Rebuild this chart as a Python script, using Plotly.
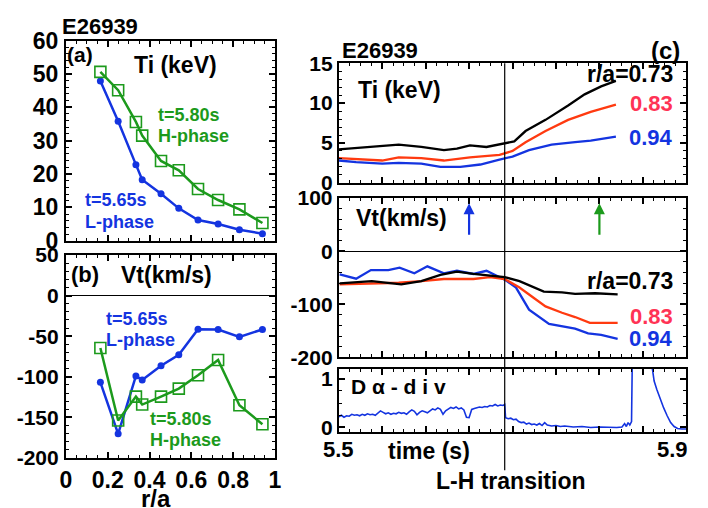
import plotly.graph_objects as go

# ---- radial profiles (panels a, b) ----
r_a = [0.165, 0.25, 0.335, 0.365, 0.455, 0.54, 0.632, 0.728, 0.83, 0.94]
ti_L = [47.9, 35.8, 22.8, 18.3, 14.1, 9.7, 6.2, 5.0, 3.3, 2.1]
ti_H = [50.6, 45.1, 35.6, 31.5, 23.9, 21.1, 15.5, 12.2, 9.4, 5.3]
vt_L = [-106.8, -170.2, -99.0, -104.0, -86.5, -72.8, -41.5, -41.8, -50.8, -41.8]
vt_H = [-64.6, -153.8, -124.4, -134.2, -124.4, -114.6, -98.2, -79.4, -135.0, -158.5]

# ---- time traces (panel c) ----
t_ti_073 = [5.500, 5.538, 5.569, 5.595, 5.621, 5.636, 5.651, 5.670, 5.691, 5.702,
            5.715, 5.738, 5.764, 5.783, 5.802, 5.819]
ti_073 = [4.2, 4.5, 4.8, 4.5, 4.1, 4.3, 4.7, 4.5, 5.0, 5.2, 6.5, 7.9, 9.7, 11.1, 12.1, 12.8]
t_ti_083 = [5.500, 5.520, 5.550, 5.569, 5.595, 5.621, 5.651, 5.685, 5.700, 5.715,
            5.738, 5.764, 5.790, 5.819]
ti_083 = [3.1, 3.0, 2.8, 3.2, 3.1, 2.8, 3.2, 3.5, 4.0, 5.1, 6.5, 7.9, 8.9, 9.8]
t_ti_094 = [5.500, 5.520, 5.550, 5.569, 5.595, 5.617, 5.640, 5.663, 5.685, 5.700,
            5.719, 5.745, 5.772, 5.790, 5.819]
ti_094 = [2.8, 2.6, 2.4, 2.5, 2.4, 2.0, 2.0, 2.3, 2.9, 3.3, 4.1, 4.8, 5.1, 5.3, 5.8]

t_vt_073 = [5.501, 5.538, 5.572, 5.595, 5.617, 5.636, 5.655, 5.674, 5.691, 5.708,
            5.723, 5.736, 5.757, 5.772, 5.795, 5.821]
vt_073 = [-60.7, -56.5, -62.5, -56.5, -44.6, -38.7, -42.9, -46.4, -48.8, -56.5,
          -66.7, -76.2, -77.4, -80.4, -79.2, -81.5]
t_vt_083 = [5.501, 5.538, 5.569, 5.595, 5.621, 5.655, 5.674, 5.691, 5.708, 5.723,
            5.738, 5.757, 5.772, 5.789, 5.821]
vt_083 = [-62.5, -60.7, -59.5, -56.5, -52.4, -52.4, -48.8, -52.4, -68.5, -86.3,
          -104.0, -116.0, -124.0, -135.0, -135.0]
t_vt_094 = [5.501, 5.520, 5.537, 5.557, 5.570, 5.587, 5.602, 5.621, 5.636, 5.655,
            5.670, 5.681, 5.691, 5.704, 5.719, 5.742, 5.757, 5.772, 5.787, 5.802, 5.821]
vt_094 = [-43.5, -51.8, -35.7, -35.7, -31.0, -41.7, -28.6, -41.7, -36.9, -42.9,
          -36.9, -45.8, -53.6, -68.5, -110.0, -137.0, -141.7, -145.8, -154.8, -157.7, -164.9]

t_da = [5.500, 5.503, 5.506, 5.509, 5.512, 5.515, 5.518, 5.521, 5.524, 5.527, 5.530,
        5.533, 5.536, 5.539, 5.542, 5.545, 5.548, 5.551, 5.554, 5.557, 5.560, 5.563,
        5.566, 5.569, 5.572, 5.575, 5.578, 5.581, 5.584, 5.587, 5.590, 5.593, 5.596,
        5.599, 5.602, 5.605, 5.608, 5.611, 5.614, 5.617, 5.620, 5.623, 5.626, 5.629,
        5.632, 5.635, 5.638, 5.641, 5.644, 5.647, 5.650, 5.653, 5.656, 5.659, 5.662,
        5.665, 5.668, 5.671, 5.674, 5.677, 5.680, 5.683, 5.686, 5.689, 5.691, 5.692,
        5.695, 5.698, 5.701, 5.704, 5.707, 5.710, 5.713, 5.716, 5.719, 5.722, 5.725,
        5.728, 5.731, 5.734, 5.737, 5.740, 5.745, 5.750, 5.755, 5.760, 5.770, 5.780,
        5.790, 5.800, 5.810, 5.820, 5.826, 5.829, 5.831, 5.833, 5.835, 5.837, 5.838,
        5.860, 5.861, 5.863, 5.866, 5.870, 5.874, 5.878, 5.882, 5.886, 5.890, 5.895, 5.900]
da = [0.22, 0.25, 0.21, 0.24, 0.23, 0.27, 0.25, 0.26, 0.24, 0.27, 0.25,
      0.28, 0.26, 0.27, 0.25, 0.30, 0.34, 0.31, 0.28, 0.30, 0.27, 0.29,
      0.28, 0.31, 0.29, 0.30, 0.27, 0.32, 0.36, 0.33, 0.26, 0.31, 0.34,
      0.32, 0.30, 0.34, 0.38, 0.36, 0.40, 0.37, 0.27, 0.34, 0.38, 0.41,
      0.39, 0.42, 0.38, 0.40, 0.36, 0.21, 0.20, 0.37, 0.39, 0.40, 0.42,
      0.41, 0.43, 0.42, 0.45, 0.44, 0.47, 0.44, 0.46, 0.45, 0.47, 0.20,
      0.18, 0.19, 0.16, 0.17, 0.12, 0.10, 0.11, 0.07, 0.09, 0.06, 0.07,
      0.05, 0.08, 0.04, 0.10, 0.05, 0.03, 0.04, 0.02, 0.03, 0.01, 0.02,
      0.00, 0.01, 0.00, 0.00, 0.01, 0.08, 0.02, 0.10, 0.05, 0.12, 1.60,
      1.60, 1.20, 0.95, 0.78, 0.58, 0.40, 0.24, 0.10, 0.02, -0.02, -0.03, -0.03]

# tick labels (plain hyphen for negatives)
ti_ticks = [0, 10, 20, 30, 40, 50, 60]
vt_ticks_a = [-200, -150, -100, -50, 0, 50]
ti_ticks_c = [0, 5, 10, 15]
vt_ticks_c = [-200, -100, 0, 100]
da_ticks = [0, 1]

t_LH = 5.691
t_L, t_H = 5.65, 5.80

BLUE = "#1434e0"
GREEN = "#1c9a1c"
RED = "#ff3a10"
RED_TXT = "#ff3355"
FONT = "Liberation Sans, Arial, sans-serif"

W, H = 708, 508
def fx(px):
    return px / W
def fy(py):
    return 1 - py / H

fig = go.Figure()

# panel a
fig.add_trace(go.Scatter(x=r_a, y=ti_L, mode="lines+markers", xaxis="x", yaxis="y",
                         line=dict(color=BLUE, width=2.5),
                         marker=dict(symbol="circle", size=7, color=BLUE)))
fig.add_trace(go.Scatter(x=r_a, y=ti_H, mode="lines+markers", xaxis="x", yaxis="y",
                         line=dict(color=GREEN, width=2.5),
                         marker=dict(symbol="square-open", size=11, color=GREEN,
                                     line=dict(width=1.6, color=GREEN))))
# panel b
fig.add_trace(go.Scatter(x=r_a, y=vt_L, mode="lines+markers", xaxis="x2", yaxis="y2",
                         line=dict(color=BLUE, width=2.5),
                         marker=dict(symbol="circle", size=7, color=BLUE)))
fig.add_trace(go.Scatter(x=r_a, y=vt_H, mode="lines+markers", xaxis="x2", yaxis="y2",
                         line=dict(color=GREEN, width=2.5),
                         marker=dict(symbol="square-open", size=11, color=GREEN,
                                     line=dict(width=1.6, color=GREEN))))
# panel c: Ti traces
for t, v, c in [(t_ti_073, ti_073, "black"), (t_ti_083, ti_083, RED), (t_ti_094, ti_094, BLUE)]:
    fig.add_trace(go.Scatter(x=t, y=v, mode="lines", xaxis="x3", yaxis="y3",
                             line=dict(color=c, width=2.3)))
# panel c: Vt traces
for t, v, c in [(t_vt_094, vt_094, BLUE), (t_vt_083, vt_083, RED), (t_vt_073, vt_073, "black")]:
    fig.add_trace(go.Scatter(x=t, y=v, mode="lines", xaxis="x4", yaxis="y4",
                             line=dict(color=c, width=2.3)))
# panel c: D-alpha
fig.add_trace(go.Scatter(x=t_da, y=da, mode="lines", xaxis="x5", yaxis="y5",
                         line=dict(color=BLUE, width=1.6)))

def tfont(size):
    return dict(family=FONT, size=size, color="black", weight="bold")

def ax_style(minor_dtick=None, **kw):
    d = dict(showline=True, linecolor="black", linewidth=2, mirror="allticks",
             ticks="inside", ticklen=6, tickwidth=1.5, tickcolor="black",
             showgrid=False, zeroline=False, tickfont=tfont(21),
             minor=dict(ticks="inside", ticklen=3, tickwidth=1.2, tickcolor="black"))
    if minor_dtick is not None:
        d["minor"]["dtick"] = minor_dtick
    d.update(kw)
    return d

def labels(vals):
    return [str(v).replace("\u2212", "-") for v in vals]

xa_left = [fx(61), fx(274)]
xa_right = [fx(339), fx(693)]

layout = dict(
    width=W, height=H, margin=dict(l=0, r=0, t=0, b=0),
    paper_bgcolor="white", plot_bgcolor="white", showlegend=False,
    font=dict(family=FONT, color="black", weight="bold"),
    xaxis=ax_style(domain=xa_left, anchor="y", range=[0, 1], dtick=0.2, tick0=0,
                   showticklabels=False, minor_dtick=0.05),
    yaxis=ax_style(domain=[fy(240), fy(29)], anchor="x", range=[0, 60],
                   tickvals=ti_ticks, ticktext=labels(ti_ticks), tickfont=tfont(23),
                   minor_dtick=2, ticklabelstandoff=1),
    xaxis2=ax_style(domain=xa_left, anchor="y2", range=[0, 1], dtick=0.2, tick0=0,
                    minor_dtick=0.05, tickfont=tfont(23), ticklabelstandoff=0),
    yaxis2=ax_style(domain=[fy(469), fy(255)], anchor="x2", range=[-200, 50],
                    tickvals=vt_ticks_a, ticktext=labels(vt_ticks_a), tickfont=tfont(21),
                    minor_dtick=10, ticklabelstandoff=1,
                    zeroline=True, zerolinecolor="black", zerolinewidth=1.2),
    xaxis3=ax_style(domain=xa_right, anchor="y3", range=[5.5, 5.9], dtick=0.05, tick0=5.5,
                    minor_dtick=0.0125, showticklabels=False),
    yaxis3=ax_style(domain=[fy(179), fy(53)], anchor="x3", range=[0, 15],
                    tickvals=ti_ticks_c, ticktext=labels(ti_ticks_c), minor_dtick=1),
    xaxis4=ax_style(domain=xa_right, anchor="y4", range=[5.5, 5.9], dtick=0.05, tick0=5.5,
                    minor_dtick=0.0125, showticklabels=False),
    yaxis4=ax_style(domain=[fy(363), fy(195)], anchor="x4", range=[-200, 100],
                    tickvals=vt_ticks_c, ticktext=labels(vt_ticks_c), minor_dtick=20,
                    zeroline=True, zerolinecolor="black", zerolinewidth=1.2),
    xaxis5=ax_style(domain=xa_right, anchor="y5", range=[5.5, 5.9], dtick=0.05, tick0=5.5,
                    minor_dtick=0.0125, showticklabels=False),
    yaxis5=ax_style(domain=[fy(442), fy(375)], anchor="x5", range=[-0.1, 1.2],
                    tickvals=da_ticks, ticktext=labels(da_ticks)),
)
layout["yaxis5"]["minor"]["tickvals"] = [0.25, 0.5, 0.75]
fig.update_layout(**layout)

# L-H transition marker spanning the right-hand panels
fig.add_shape(type="line", xref="x3", yref="paper", x0=t_LH, x1=t_LH,
              y0=fy(482), y1=fy(53), line=dict(color="black", width=1.2))

# arrows marking the two profile times
for t, c in [(t_L, BLUE), (t_H, GREEN)]:
    fig.add_annotation(x=t, y=90, xref="x4", yref="y4", ax=t, ay=28, axref="x4", ayref="y4",
                       showarrow=True, arrowhead=2, arrowsize=1.0, arrowwidth=2.2,
                       arrowcolor=c, text="")

def label(text, px, py, size=20, color="black", anchor="left", yanchor="middle"):
    fig.add_annotation(x=fx(px), y=fy(py), xref="paper", yref="paper", text=text,
                       showarrow=False, xanchor=anchor, yanchor=yanchor,
                       borderpad=0,
                       font=dict(family=FONT, size=size, color=color, weight="bold"))

# left column text
label("E26939", 56, 14, 22)
label("(a)", 61, 44, 21)
label("Ti (keV)", 129, 55, 23)
label("t=5.80s", 154, 108, 18, GREEN)
label("H-phase", 154, 130, 18, GREEN)
label("t=5.65s", 79, 197, 18, BLUE)
label("L-phase", 79, 220, 18, BLUE)
label("(b)", 65, 276, 22)
label("Vt(km/s)", 116, 276, 23)
label("t=5.65s", 101, 323, 18, BLUE)
label("L-phase", 101, 345, 18, BLUE)
label("t=5.80s", 146, 428, 18, GREEN)
label("H-phase", 146, 450, 18, GREEN)
label("r/a", 153, 496, 24, anchor="center", yanchor="top")

# right column text
label("E26939", 341, 39, 22)
label("(c)", 688, 39, 24, anchor="right")
label("Ti (keV)", 358, 81, 23)
label("r/a=0.73", 680, 64, 23, anchor="right")
label("0.83", 680, 95, 22, RED_TXT, anchor="right")
label("0.94", 680, 131, 22, BLUE, anchor="right")
label("Vt(km/s)", 356, 216, 23)
label("r/a=0.73", 681, 282, 23, anchor="right")
label("0.83", 681, 320, 22, RED_TXT, anchor="right")
label("0.94", 681, 343, 22, BLUE, anchor="right")
label("D α - d i v", 350, 394, 21)
label("5.5", 339, 460, 22, anchor="center")
label("time (s)", 388, 462, 23)
label("5.9", 696, 460, 22, anchor="right")
label("L-H transition", 514, 493, 23, anchor="center")

fig.write_html("out.html")
